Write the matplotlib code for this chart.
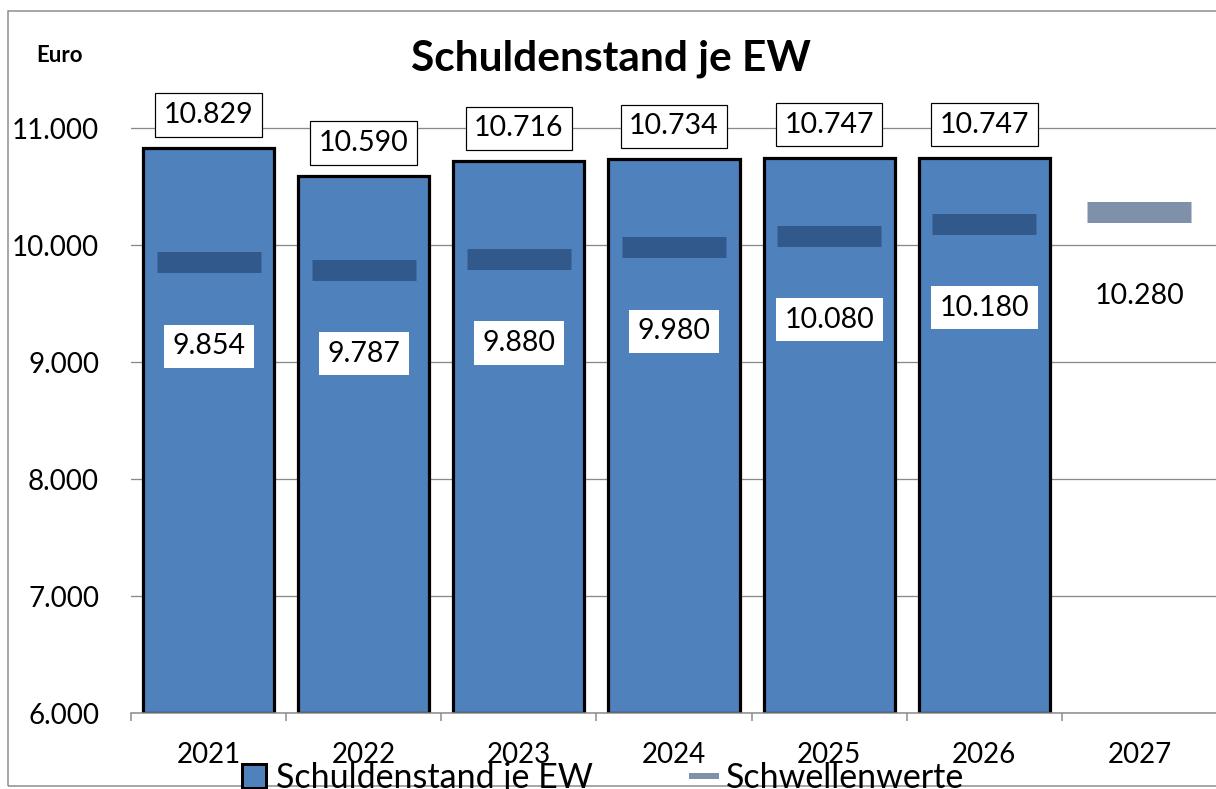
import matplotlib
matplotlib.use('Agg')
import matplotlib.pyplot as plt
import numpy as np
from matplotlib.patches import Rectangle, Patch
from matplotlib.lines import Line2D

years = ['2021', '2022', '2023', '2024', '2025', '2026', '2027']
schuldenstand = [10829, 10590, 10716, 10734, 10747, 10747]
schwellenwerte = [9854, 9787, 9880, 9980, 10080, 10180, 10280]
yticks = [6000, 7000, 8000, 9000, 10000, 11000]


def fmt(v):
    return f"{v:,}".replace(',', '.')


plt.rcParams['font.family'] = ['Lato', 'DejaVu Sans']

W, H = 1216, 789
fig = plt.figure(figsize=(W / 100, H / 100), dpi=100)
PX = 0.72  # points per pixel

ax = fig.add_axes([131 / W, 76 / H, 1086 / W, (713 - 22.7) / H])
ax.set_xlim(-0.5, 6.5)
ax.set_ylim(6000, 11900)

# grid
ax.set_yticks(yticks)
ax.set_yticklabels([fmt(v) for v in yticks])
ax.yaxis.grid(True, color='#8a8a8a', lw=1.3 * PX, zorder=0)
ax.set_axisbelow(True)
ax.tick_params(axis='y', length=0, pad=32 * PX, labelsize=20)

x = np.arange(len(years))
ax.set_xticks(x)
ax.set_xticklabels(years)
ax.set_xticks(np.arange(-0.5, 7, 1), minor=True)
ax.tick_params(axis='x', which='major', length=0, pad=29 * PX, labelsize=20)
ax.tick_params(axis='x', which='minor', length=8 * PX, width=1.5 * PX, color='#8a8a8a')

for s in ['left', 'right', 'top']:
    ax.spines[s].set_visible(False)
ax.spines['bottom'].set_color('#8a8a8a')
ax.spines['bottom'].set_linewidth(1.5 * PX)

bx = x[:len(schuldenstand)]
ax.bar(bx, np.array(schuldenstand) - 6000, bottom=6000, width=0.845,
       color='#4F81BD', edgecolor='black', linewidth=3.2 * PX, zorder=2)

ax.plot(x, schwellenwerte, linestyle='none', marker='_', markersize=105 * PX,
        markeredgewidth=21 * PX, color=(27 / 255, 59 / 255, 103 / 255), alpha=0.56, zorder=3)

for xi, v in zip(bx, schuldenstand):
    ax.annotate(fmt(v), (xi, v), xytext=(0, 33 * PX), textcoords='offset points',
                ha='center', va='center', fontsize=20.5, zorder=5,
                bbox=dict(boxstyle='square,pad=0.3', fc='white', ec='black', lw=1.2 * PX))

for xi, v in zip(x, schwellenwerte):
    ax.annotate(fmt(v), (xi, v), xytext=(0, -84 * PX), textcoords='offset points',
                ha='center', va='center', fontsize=20.5, zorder=5,
                bbox=dict(boxstyle='square,pad=0.3', fc='white', ec='none'))

fig.text(611 / W, 1 - 70 / H, 'Schuldenstand je EW', ha='center', va='baseline',
         fontsize=30.5, fontweight='bold')
fig.text(59 / W, 1 - 56 / H, 'Euro', ha='center', va='center',
         fontsize=16, fontweight='bold')

handles = [Patch(facecolor='#4F81BD', edgecolor='black', linewidth=3 * PX),
           Line2D([], [], color='#7F90AA', lw=6 * PX)]
fig.legend(handles=handles, labels=['Schuldenstand je EW', 'Schwellenwerte'],
           loc='center', bbox_to_anchor=(603 / W, 1 - 778 / H), ncol=2, frameon=False,
           fontsize=24.5, handlelength=0.7, handleheight=0.7, handletextpad=0.3,
           columnspacing=2.9, borderpad=0, borderaxespad=0)

fig.patches.append(Rectangle((8 / W, 1 - 786 / H), 1.2, (786 - 11) / H,
                             transform=fig.transFigure, fill=False,
                             ec='#8c8c8c', lw=1.5 * PX, zorder=-1))

fig.savefig('out.png', dpi=100)
